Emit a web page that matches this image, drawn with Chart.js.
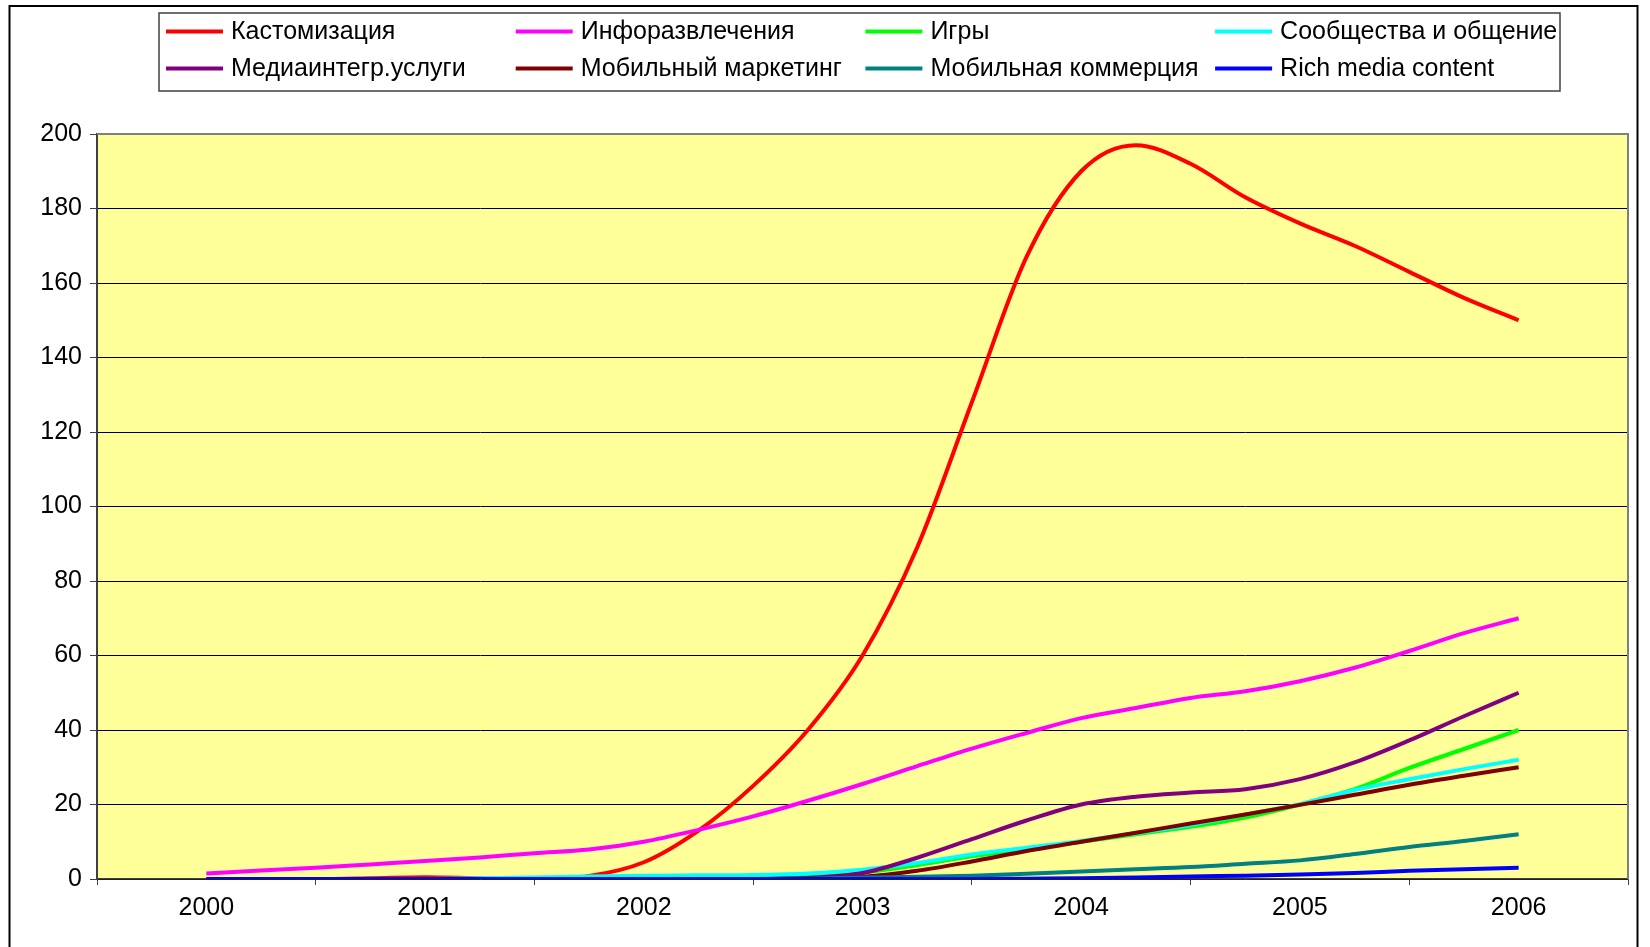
<!DOCTYPE html>
<html lang="ru">
<head>
<meta charset="utf-8">
<title>Мобильный контент 2000-2006</title>
<script src="https://cdn.jsdelivr.net/npm/chart.js@4.4.1/dist/chart.umd.min.js"></script>
<style>
  html, body { margin: 0; padding: 0; background: #fff; }
  #wrap { position: relative; width: 1650px; height: 947px; }
</style>
</head>
<body>
<div id="wrap"><canvas id="chart"></canvas></div>
<script>
"use strict";

// quarters on the x axis, labels only on whole years
const quarters = [2000, 2000.25, 2000.5, 2000.75, 2001, 2001.25, 2001.5, 2001.75,
  2002, 2002.25, 2002.5, 2002.75, 2003, 2003.25, 2003.5, 2003.75,
  2004, 2004.25, 2004.5, 2004.75, 2005, 2005.25, 2005.5, 2005.75, 2006];
const yearLabels = ["2000", "2001", "2002", "2003", "2004", "2005", "2006"];

const seriesNames = ["Кастомизация", "Инфоразвлечения", "Игры", "Сообщества и общение",
  "Медиаинтегр.услуги", "Мобильный маркетинг", "Мобильная коммерция", "Rich media content"];
const seriesColors = ["#ff0000", "#ff00ff", "#00ff00", "#00ffff",
  "#800080", "#800000", "#008080", "#0000ff"];

const customization = [0, 0, 0, 0.2, 0.5, 0.2, 0, 0.8,
  4.5, 13, 25, 40, 60, 89, 128, 167,
  190, 197, 192, 183, 176, 170, 163, 156, 150];
const infotainment = [1.5, 2.3, 3, 3.9, 4.8, 5.8, 6.9, 7.9,
  10, 13.2, 16.8, 21, 25.5, 30.3, 35, 39.2,
  43.2, 45.9, 48.6, 50.4, 53.1, 56.7, 61.2, 66, 70];
const games = [0, 0, 0, 0, 0, 0, 0.2, 0.4,
  0.5, 0.5, 0.5, 0.8, 1.7, 3.7, 6.1, 8,
  10, 12, 14, 16.5, 20, 24.1, 29.8, 34.9, 40];
const communities = [0, 0, 0, 0, 0, 0.2, 0.4, 0.7,
  0.9, 1, 1.1, 1.5, 2.5, 4.3, 6.6, 8.4,
  10.2, 12.3, 14.5, 17.3, 20.1, 23.9, 26.8, 29.5, 32];
const mediaServices = [0, 0, 0, 0, 0, 0, 0, 0,
  0, 0, 0, 0.3, 1.6, 5.7, 10.7, 15.7,
  20, 22.1, 23.2, 24.1, 26.8, 31.3, 37.2, 43.7, 50];
const mobileMarketing = [0, 0, 0, 0, 0, 0, 0, 0,
  0, 0, 0, 0.2, 0.6, 2.2, 4.7, 7.5,
  10, 12.4, 14.9, 17.3, 19.9, 22.6, 25.3, 27.7, 30];
const mobileCommerce = [0, 0, 0, 0, 0, 0, 0, 0,
  0, 0, 0, 0.1, 0.4, 0.6, 0.9, 1.4,
  2, 2.6, 3.2, 4.1, 5, 6.7, 8.6, 10.2, 12];
const richMedia = [0, 0, 0, 0, 0, 0, 0, 0,
  0, 0, 0, 0, 0, 0, 0, 0.1,
  0.2, 0.4, 0.7, 0.9, 1.2, 1.6, 2.2, 2.6, 3];

const allSeries = [customization, infotainment, games, communities,
  mediaServices, mobileMarketing, mobileCommerce, richMedia];

const FONT = "\"Liberation Sans\", Arial, sans-serif";

// yellow plot area with its grey frame
const plotArea = {
  id: "plotArea",
  beforeDraw(chart) {
    const { ctx, chartArea: a } = chart;
    ctx.save();
    ctx.fillStyle = "#ffff99";
    ctx.fillRect(a.left, a.top, a.right - a.left, a.bottom - a.top);
    ctx.restore();
  },
  beforeDatasetsDraw(chart) {
    const { ctx, chartArea: a } = chart;
    ctx.save();
    ctx.strokeStyle = "#808080";
    ctx.lineWidth = 2;
    ctx.beginPath();
    ctx.moveTo(a.left, a.top);
    ctx.lineTo(a.right, a.top);
    ctx.lineTo(a.right, a.bottom);
    ctx.stroke();
    ctx.restore();
  }
};

// boxed legend in four fixed columns plus the outer frame
const boxLegend = {
  id: "boxLegend",
  afterDraw(chart) {
    const ctx = chart.ctx;
    ctx.save();
    ctx.strokeStyle = "#000";
    ctx.lineWidth = 2;
    ctx.strokeRect(9.5, 6, 1628, 1000);

    ctx.strokeStyle = "#404040";
    ctx.lineWidth = 1.5;
    ctx.strokeRect(159, 13, 1401, 78);

    ctx.font = "25px " + FONT;
    ctx.textBaseline = "middle";
    ctx.fillStyle = "#000";
    chart.data.datasets.forEach((ds, i) => {
      const x = 166 + (i % 4) * 349.7;
      const y = i < 4 ? 31.5 : 68.5;
      ctx.strokeStyle = ds.borderColor;
      ctx.lineWidth = 4;
      ctx.beginPath();
      ctx.moveTo(x, y);
      ctx.lineTo(x + 57, y);
      ctx.stroke();
      ctx.fillText(ds.label, x + 65, y + 1);
    });
    ctx.restore();
  }
};

const app = {
  init() {
    this.renderChart();
  },

  renderChart() {
    const ctx = document.getElementById("chart").getContext("2d");
    new Chart(ctx, {
      type: "line",
      data: {
        datasets: seriesNames.map((name, i) => ({
          label: name,
          data: allSeries[i].map((v, k) => ({ x: quarters[k], y: v })),
          borderColor: seriesColors[i],
          backgroundColor: seriesColors[i],
          borderWidth: 4,
          pointRadius: 0,
          cubicInterpolationMode: "monotone",
          order: seriesNames.length - i
        }))
      },
      options: {
        responsive: true,
        maintainAspectRatio: false,
        animation: false,
        layout: { padding: { top: 134, right: 22, left: 0, bottom: 0 } },
        plugins: { legend: { display: false }, tooltip: { enabled: false } },
        scales: {
          x: {
            type: "linear",
            min: 1999.5,
            max: 2006.5,
            afterFit(scale) { scale.height = 68; },
            grid: {
              drawOnChartArea: false,
              tickLength: 6,
              tickColor: c => Number.isInteger(c.tick.value) ? "rgba(0,0,0,0)" : "#404040"
            },
            border: { color: "#404040", width: 1.5 },
            ticks: {
              stepSize: 0.5,
              autoSkip: false,
              maxRotation: 0,
              padding: 8,
              color: "#000",
              font: { family: FONT, size: 25 },
              callback: v => Number.isInteger(v) ? yearLabels[v - 2000] : ""
            }
          },
          y: {
            min: 0,
            max: 200,
            afterFit(scale) { scale.width = 97; },
            grid: { color: "#000", lineWidth: 1, tickLength: 7, tickColor: "#404040" },
            border: { color: "#404040", width: 2 },
            ticks: {
              stepSize: 20,
              padding: 8,
              color: "#000",
              font: { family: FONT, size: 25 }
            }
          }
        }
      },
      plugins: [plotArea, boxLegend]
    });
  }
};

app.init();
</script>
</body>
</html>
